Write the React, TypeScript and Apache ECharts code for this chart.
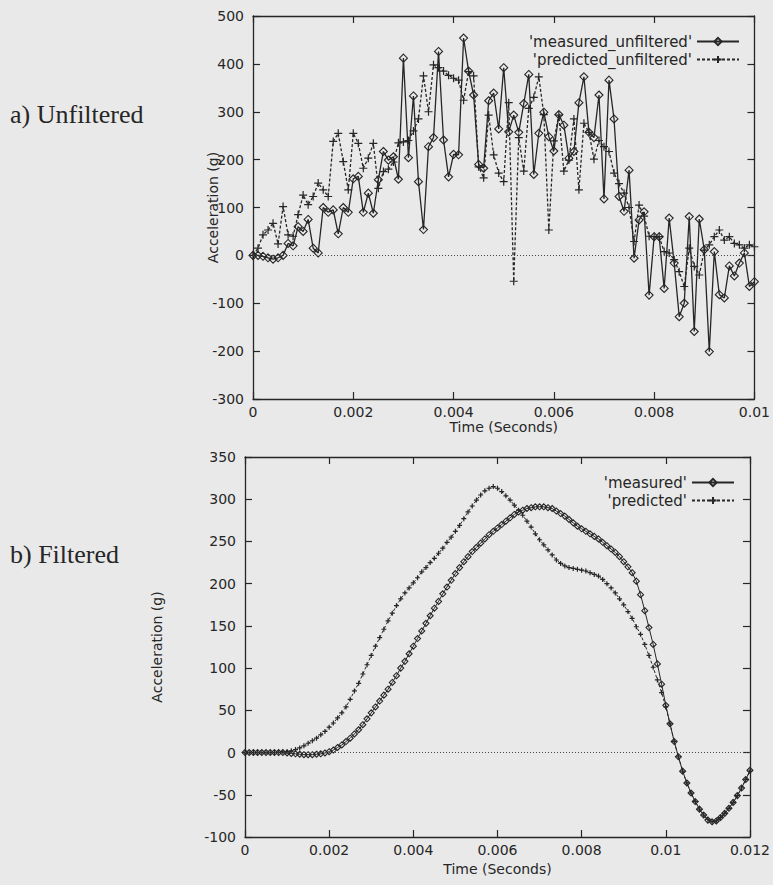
import React, { useEffect, useRef } from "react";
import * as echarts from "echarts";

// sample interval of the recorded signals (seconds)
const DT = 0.0001;

// a) Unfiltered, samples 0..100
const measuredUnfiltered = [
  0, 0, -2, -5, -8, -5, 0, 25, 20, 60,
  50, 75, 15, 5, 100, 90, 95, 45, 100, 90,
  160, 165, 90, 130, 88, 158, 217, 199, 206, 159,
  412, 204, 333, 154, 54, 227, 246, 426, 241, 164,
  211, 210, 454, 385, 335, 190, 182, 323, 339, 264,
  392, 258, 293, 257, 317, 378, 169, 255, 299, 248,
  218, 294, 272, 203, 217, 319, 373, 257, 246, 335,
  118, 366, 285, 123, 92, 178, -6, 74, 91, -83,
  39, 39, -69, 78, -16, -128, -100, 81, -159, 76,
  12, -201, 8, -82, -89, -22, -43, -16, 5, -65,
  -55,
];
const predictedUnfiltered = [
  0, 15, 43, 53, 67, 24, 102, 43, 40, 85,
  126, 106, 123, 151, 137, 123, 238, 255, 196, 137,
  255, 234, 182, 203, 234, 140, 175, 180, 195, 235,
  237, 240, 260, 285, 375, 300, 398, 392, 385, 376,
  370, 366, 324, 384, 375, 185, 162, 293, 210, 172,
  154, 319, -54, 246, 176, 307, 330, 373, 294, 53,
  239, 293, 176, 199, 285, 137, 276, 257, 201, 240,
  227, 217, 172, 150, 130, 100, 29, 105, 82, 40,
  39, 39, 8, 5, -9, -34, -65, 15, -23, -41,
  11, 22, 39, 53, 32, 39, 25, 22, 15, 22,
  18,
];

// b) Filtered, samples 0..120
const measuredFiltered = [
  0, 0, 0, 0, 0, 0, 0, 0, 0, 0,
  -0.5, -1, -1.5, -2, -2.5, -2.5, -2.5, -2, -1.5, -0.5,
  1, 3, 6, 9, 13, 17, 22, 27, 33, 40,
  47, 54, 61, 68, 75, 83, 91, 100, 108, 117,
  126, 135, 144, 153, 162, 171, 179, 188, 196, 204,
  212, 219, 226, 232, 238, 243, 248, 253, 258, 262,
  266, 270, 274, 278, 282, 285, 287, 289, 290, 291,
  291, 291, 290, 289, 286, 283, 280, 276, 272, 268,
  265, 262, 259, 256, 253, 249, 245, 241, 237, 232,
  226, 220, 213, 203, 187, 168, 148, 128, 105, 81,
  56, 34, 13, -5, -22, -36, -48, -58, -67, -74,
  -80, -82, -81, -77, -72, -66, -59, -51, -42, -32,
  -21,
];
const predictedFiltered = [
  0, 0, 0, 0, 0, 0, 0, 0, 0.3, 0.7,
  1, 2, 3.5, 5.5, 8, 11, 14, 17, 21, 25,
  30, 35, 41, 47, 54, 63, 73, 82, 93, 104,
  115, 126, 136, 146, 156, 165, 174, 182, 189, 195,
  201, 207, 214, 219, 225, 230, 236, 242, 249, 255,
  262, 269, 277, 285, 292, 299, 305, 310, 313, 315,
  313, 309, 304, 299, 293, 287, 281, 274, 267, 259,
  252, 246, 240, 234, 228, 224, 221, 219, 218, 217,
  216, 215, 213, 211, 209, 205, 200, 195, 189, 182,
  175, 167, 159, 149, 140, 128, 115, 101, 86, 71,
  54, 34, 13, -5, -22, -36, -48, -58, -67, -74,
  -79, -82, -81, -77, -72, -66, -59, -51, -42, -32,
  -22,
];

const NAMES_TOP = ["'measured_unfiltered'", "'predicted_unfiltered'"];
const NAMES_BOTTOM = ["'measured'", "'predicted'"];
const X_TITLE = "Time (Seconds)";
const Y_TITLE = "Acceleration (g)";
const PANEL_A = "a) Unfiltered";
const PANEL_B = "b) Filtered";

const INK = "#262626";
const BG = "#e9e9e9";
const FONT = "DejaVu Sans";
const DIAMOND = "path://M5,0L10,5L5,10L0,5Z";
const PLUS = "path://M0,5H10M5,0V10";

const toPairs = (arr: number[]) => arr.map((v, i) => [Number((i * DT).toFixed(4)), v]);
const fmtX = (v: number) => String(Number(v.toFixed(4)));

export default function App() {
  const ref = useRef<HTMLDivElement | null>(null);

  useEffect(() => {
    if (!ref.current) return;
    const chart = echarts.init(ref.current, undefined, { renderer: "svg" });

    const axisLine = { show: true, onZero: false, lineStyle: { color: INK, width: 1.3 } };
    const axisTick = { show: true, inside: true, length: 7, lineStyle: { color: INK, width: 1.2 } };
    const label = { color: INK, fontFamily: FONT, fontSize: 14 };
    const nameStyle = { color: INK, fontFamily: FONT, fontSize: 14 };

    const xAx = (grid: number, max: number, gap: number) => [
      {
        type: "value", gridIndex: grid, min: 0, max, interval: 0.002, position: "bottom",
        name: X_TITLE, nameLocation: "middle", nameGap: gap, nameTextStyle: nameStyle,
        nameMoveOverlap: false,
        axisLine, axisTick, splitLine: { show: false },
        axisLabel: { ...label, margin: 6, formatter: fmtX },
      },
      {
        type: "value", gridIndex: grid, min: 0, max, interval: 0.002, position: "top",
        axisLine, axisTick, splitLine: { show: false }, axisLabel: { show: false },
      },
    ];
    const yAx = (grid: number, min: number, max: number, interval: number, gap: number) => [
      {
        type: "value", gridIndex: grid, min, max, interval, position: "left",
        name: Y_TITLE, nameLocation: "middle", nameGap: gap, nameRotate: 90, nameTextStyle: nameStyle,
        nameMoveOverlap: false,
        axisLine, axisTick, splitLine: { show: false },
        axisLabel: { ...label, margin: 9 },
      },
      {
        type: "value", gridIndex: grid, min, max, interval, position: "right",
        axisLine, axisTick, splitLine: { show: false }, axisLabel: { show: false },
      },
    ];

    const zeroLine = {
      silent: true,
      symbol: ["none", "none"],
      label: { show: false },
      lineStyle: { type: [1, 2], color: "#4a4a4a", width: 1 },
      data: [{ yAxis: 0 }],
    };

    const measuredSeries = (name: string, data: number[], xi: number, yi: number, size: number, lw: number) => ({
      name, type: "line", xAxisIndex: xi, yAxisIndex: yi, data: toPairs(data),
      symbol: DIAMOND, symbolSize: [size, size], showAllSymbol: true,
      itemStyle: { color: "rgba(0,0,0,0)", borderColor: INK, borderWidth: 1.1 },
      lineStyle: { color: INK, width: lw, type: "solid" },
      markLine: zeroLine, z: 2,
    });
    const predictedSeries = (name: string, data: number[], xi: number, yi: number, size: number, lw: number) => ({
      name, type: "line", xAxisIndex: xi, yAxisIndex: yi, data: toPairs(data),
      symbol: PLUS, symbolSize: [size, size], showAllSymbol: true,
      itemStyle: { color: INK, borderColor: INK, borderWidth: 1.2 },
      lineStyle: { color: INK, width: lw, type: [3, 2] },
      z: 3,
    });

    const legendCommon = {
      orient: "vertical", align: "right", itemWidth: 42, itemHeight: 9, itemGap: 3,
      textStyle: { color: INK, fontFamily: FONT, fontSize: 15 },
      selectedMode: false,
    };

    chart.setOption({
      animation: false,
      backgroundColor: BG,
      grid: [
        { left: 253, right: 17, top: 16, height: 383 },
        { left: 245, right: 22, top: 457, height: 380 },
      ],
      xAxis: [...xAx(0, 0.01, 21), ...xAx(1, 0.012, 25)],
      yAxis: [...yAx(0, -300, 500, 100, 33), ...yAx(1, -100, 350, 50, 81)],
      legend: [
        { ...legendCommon, right: 28, top: 29, data: NAMES_TOP },
        { ...legendCommon, right: 33, top: 470, data: NAMES_BOTTOM },
      ],
      series: [
        measuredSeries(NAMES_TOP[0], measuredUnfiltered, 0, 0, 8, 1.3),
        predictedSeries(NAMES_TOP[1], predictedUnfiltered, 0, 0, 8, 1.3),
        measuredSeries(NAMES_BOTTOM[0], measuredFiltered, 2, 2, 6, 1),
        predictedSeries(NAMES_BOTTOM[1], predictedFiltered, 2, 2, 5, 1),
      ],
      graphic: [
        {
          type: "text", left: 10, top: 101,
          style: { text: PANEL_A, fill: INK, font: "26px 'Liberation Serif'" },
        },
        {
          type: "text", left: 10, top: 541,
          style: { text: PANEL_B, fill: INK, font: "26px 'Liberation Serif'" },
        },
      ],
    });

    return () => chart.dispose();
  }, []);

  return (
    <div
      ref={ref}
      style={{ position: "absolute", left: 0, top: 0, width: 773, height: 885, background: BG }}
    />
  );
}
